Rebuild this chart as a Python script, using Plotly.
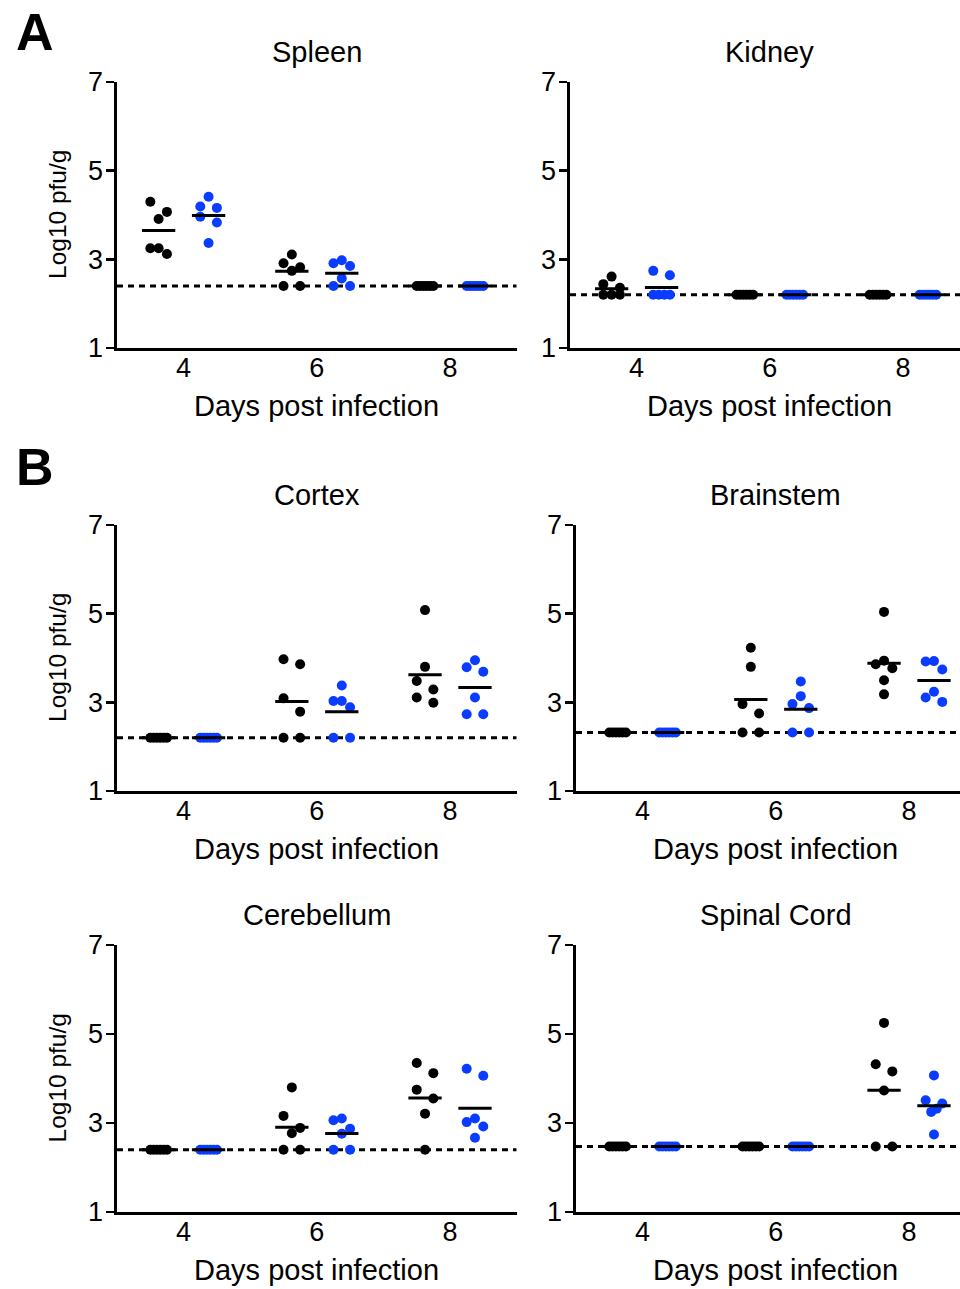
import numpy as np
import plotly.graph_objects as go

# ---------------- data ----------------
days = [4, 6, 8]
day_labels = ["4", "6", "8"]
y_ticks = [1, 3, 5, 7]
y_tick_labels = ["1", "3", "5", "7"]
tissues = ["Spleen", "Kidney", "Cortex", "Brainstem", "Cerebellum", "Spinal Cord"]
detection_limits = [2.40, 2.20, 2.20, 2.32, 2.40, 2.47]

# each list: [day 4 values, day 6 values, day 8 values]
spleen_black = [[4.30, 4.07, 3.91, 3.25, 3.25, 3.12],
                [3.11, 2.91, 2.82, 2.74, 2.40, 2.40],
                [2.40, 2.40, 2.40, 2.40, 2.40, 2.40]]
spleen_blue = [[4.41, 4.19, 4.16, 3.96, 3.83, 3.37],
               [2.98, 2.91, 2.85, 2.57, 2.40, 2.40],
               [2.40, 2.40, 2.40, 2.40, 2.40, 2.40]]
kidney_black = [[2.61, 2.44, 2.36, 2.20, 2.20, 2.20],
                [2.20, 2.20, 2.20, 2.20, 2.20, 2.20],
                [2.20, 2.20, 2.20, 2.20, 2.20, 2.20]]
kidney_blue = [[2.74, 2.64, 2.20, 2.20, 2.20, 2.20],
               [2.20, 2.20, 2.20, 2.20, 2.20, 2.20],
               [2.20, 2.20, 2.20, 2.20, 2.20, 2.20]]
cortex_black = [[2.20, 2.20, 2.20, 2.20, 2.20, 2.20],
                [3.97, 3.86, 3.09, 2.79, 2.20, 2.20],
                [5.08, 3.80, 3.48, 3.29, 3.11, 2.99]]
cortex_blue = [[2.20, 2.20, 2.20, 2.20, 2.20, 2.20],
               [3.38, 3.03, 3.03, 2.89, 2.20, 2.20],
               [3.95, 3.79, 3.69, 3.11, 2.73, 2.73]]
brainstem_black = [[2.32, 2.32, 2.32, 2.32, 2.32, 2.32],
                   [4.23, 3.80, 2.96, 2.75, 2.32, 2.32],
                   [5.04, 3.94, 3.86, 3.77, 3.50, 3.18]]
brainstem_blue = [[2.32, 2.32, 2.32, 2.32, 2.32, 2.32],
                  [3.47, 3.14, 2.96, 2.87, 2.32, 2.32],
                  [3.93, 3.92, 3.74, 3.24, 3.11, 3.01]]
cerebellum_black = [[2.40, 2.40, 2.40, 2.40, 2.40, 2.40],
                    [3.80, 3.16, 2.89, 2.77, 2.40, 2.40],
                    [4.35, 4.12, 3.75, 3.55, 3.21, 2.40]]
cerebellum_blue = [[2.40, 2.40, 2.40, 2.40, 2.40, 2.40],
                   [3.10, 3.06, 2.87, 2.76, 2.40, 2.40],
                   [4.22, 4.06, 3.10, 3.02, 2.92, 2.67]]
spinal_black = [[2.47, 2.47, 2.47, 2.47, 2.47, 2.47],
                [2.47, 2.47, 2.47, 2.47, 2.47, 2.47],
                [5.25, 4.32, 4.16, 3.73, 2.47, 2.47]]
spinal_blue = [[2.47, 2.47, 2.47, 2.47, 2.47, 2.47],
               [2.47, 2.47, 2.47, 2.47, 2.47, 2.47],
               [4.07, 3.51, 3.44, 3.32, 3.25, 2.74]]

black_series = [spleen_black, kidney_black, cortex_black,
                brainstem_black, cerebellum_black, spinal_black]
blue_series = [spleen_blue, kidney_blue, cortex_blue,
               brainstem_blue, cerebellum_blue, spinal_blue]

# ---------------- layout / style ----------------
W, H = 960, 1289
FONT = "Liberation Sans, Arial, sans-serif"
BLACK = "#000000"
BLUE = "#0a3cff"
PX_DAY = 66.6
GROUP_SHIFT = 0.375
SPREAD_PX = 8.3

# (x_left_px, x_right_px, y_top_px, y_bottom_px) for each panel, page pixels
panel_px = [
    (117, 516.7, 82, 348), (570, 960, 82, 348),
    (117, 516.7, 525, 791), (576, 960, 525, 791),
    (117, 516.7, 945, 1212), (576, 960, 945, 1212),
]


def px_x(px):
    return px / W


def px_y(py):
    return 1 - py / H


def spread(values):
    """GraphPad-like scatter spreading of points sharing similar values."""
    vals = np.asarray(values, dtype=float)
    order = np.argsort(-vals, kind="stable")
    rows = []
    for i in order:
        if rows and vals[rows[-1][0]] - vals[i] < 0.3:
            rows[-1].append(i)
        else:
            rows.append([i])
    off = np.zeros(len(vals))
    s = SPREAD_PX
    for row in rows:
        n = len(row)
        if n == 1:
            pos = [0.0]
        elif n == 2:
            pos = [-s, s]
        elif n == 3:
            pos = [0.0, -s, s]
        else:
            lin = list(np.linspace(-s, s, n))
            pos = sorted(lin, key=lambda p: (-abs(p), p))
        for idx, p in zip(row, pos):
            off[idx] = p
    return off / PX_DAY


fig = go.Figure()
layout = dict(width=W, height=H,
              margin=dict(l=0, r=0, t=0, b=0, pad=0, autoexpand=False),
              paper_bgcolor="white", plot_bgcolor="white", showlegend=False,
              font=dict(family=FONT, color="black"))
annotations = []

for k, tissue in enumerate(tissues):
    x0, x1, yt, yb = panel_px[k]
    xname = "x" if k == 0 else f"x{k+1}"
    yname = "y" if k == 0 else f"y{k+1}"
    xkey = "xaxis" if k == 0 else f"xaxis{k+1}"
    ykey = "yaxis" if k == 0 else f"yaxis{k+1}"
    xmax = 3 + (x1 - x0) / PX_DAY
    layout[xkey] = dict(domain=[px_x(x0), min(1.0, px_x(x1))], range=[3, xmax],
                        anchor=yname,
                        showline=True, linecolor="black", linewidth=2.6,
                        showgrid=False, zeroline=False, ticks="",
                        tickvals=days, ticktext=day_labels, automargin=False,
                        ticklabelstandoff=-6,
                        tickfont=dict(size=27, family=FONT), fixedrange=True)
    layout[ykey] = dict(domain=[px_y(yb), px_y(yt)], range=[1, 7], anchor=xname,
                        showline=True, linecolor="black", linewidth=2.6,
                        showgrid=False, zeroline=False, ticks="outside",
                        ticklen=8, tickwidth=2.6, tickcolor="black",
                        tickvals=y_ticks, ticktext=y_tick_labels, automargin=False,
                        ticklabelstandoff=-2,
                        tickfont=dict(size=27, family=FONT), fixedrange=True)

    # detection limit
    lod = detection_limits[k]
    fig.add_trace(go.Scatter(x=[3, xmax], y=[lod, lod], mode="lines",
                             line=dict(color="black", width=3, dash="6px,5px"),
                             xaxis=xname, yaxis=yname, hoverinfo="skip"))

    for series, color, sign in ((black_series[k], BLACK, -1), (blue_series[k], BLUE, 1)):
        for d, vals in zip(days, series):
            center = d + sign * GROUP_SHIFT
            xs = center + spread(vals)
            fig.add_trace(go.Scatter(x=xs, y=vals, mode="markers",
                                     marker=dict(color=color, size=10, line=dict(width=0)),
                                     xaxis=xname, yaxis=yname, cliponaxis=False))
        for d, vals in zip(days, series):
            center = d + sign * GROUP_SHIFT
            m = float(np.mean(vals))
            fig.add_trace(go.Scatter(x=[center - 0.25, center + 0.25], y=[m, m],
                                     mode="lines", line=dict(color="black", width=3),
                                     xaxis=xname, yaxis=yname, hoverinfo="skip"))

    # panel title
    annotations.append(dict(text=tissue, xref=xname, x=6, yref="paper",
                            y=px_y(yt - 30), yanchor="middle", xanchor="center",
                            showarrow=False, font=dict(size=29, family=FONT)))
    # x axis title
    annotations.append(dict(text="Days post infection", xref=xname, x=6, yref="paper",
                            y=px_y(yb + 58), yanchor="middle", xanchor="center",
                            showarrow=False, font=dict(size=29, family=FONT)))
    # y axis title (left column only)
    if k % 2 == 0:
        annotations.append(dict(text="Log10 pfu/g", xref="paper", x=px_x(57),
                                yref="paper", y=px_y((yt + yb) / 2),
                                xanchor="center", yanchor="middle", textangle=-90,
                                showarrow=False, font=dict(size=24.5, family=FONT)))

# panel letters
for letter, px, py in (("A", 35, 32), ("B", 35, 467)):
    annotations.append(dict(text=f"<b>{letter}</b>", xref="paper", x=px_x(px),
                            yref="paper", y=px_y(py), xanchor="center",
                            yanchor="middle", showarrow=False,
                            font=dict(size=52, family=FONT)))

layout["annotations"] = annotations
fig.update_layout(**layout)
fig.write_html("out.html",
               config={"displayModeBar": False, "staticPlot": True},
               post_script="document.body.style.margin='0';"
                           "document.documentElement.style.overflow='hidden';")
